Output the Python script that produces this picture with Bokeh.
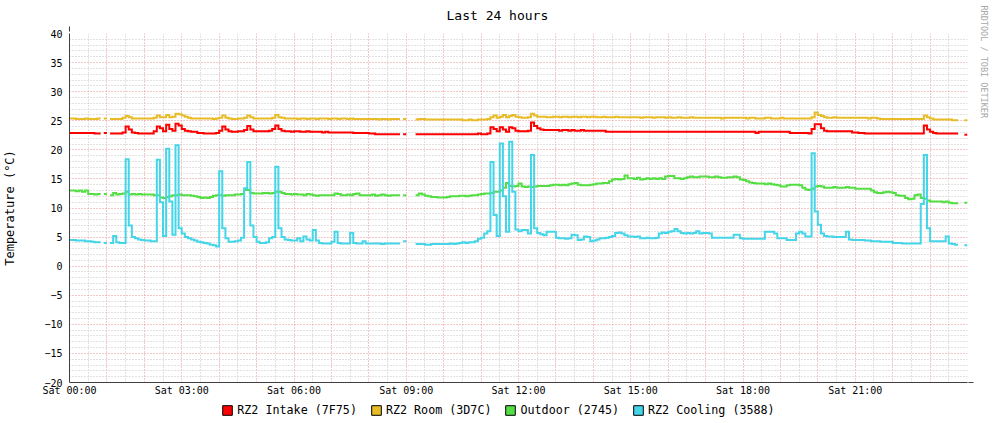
import math
import numpy as np
from bokeh.plotting import figure
from bokeh.layouts import column
from bokeh.models import (Range1d, FixedTicker, Legend, LegendItem, ColumnDataSource, Title,
                          Arrow, NormalHead)
from bokeh.embed import file_html
from bokeh.resources import INLINE

N = None
STEP_MIN = 5  # minutes per sample

# ---- data: one row per hour, 12 samples of 5 minutes ----
intake = [
    22.9, 22.9, 22.9, 22.9, 22.9, 22.9, 22.9, 22.9, 22.8, 22.8, N, 22.9,
    N, 22.8, 22.8, 22.8, 22.8, 23.0, 24.0, 23.5, 23.0, 22.9, 22.8, 22.8,
    22.8, 22.8, 22.8, 23.2, 24.0, 23.7, 23.2, 24.3, 23.6, 23.3, 24.5, 24.2,
    23.6, 23.3, 23.2, 23.1, 23.1, 22.9, 22.9, 22.8, 22.8, 22.8, 22.8, 22.9,
    23.3, 24.0, 23.5, 23.2, 23.1, 23.1, 23.2, 23.2, 23.4, 24.1, 23.5, 23.2,
    23.2, 23.2, 23.2, 23.2, 23.3, 23.6, 24.2, 23.6, 23.3, 23.2, 23.2, 23.1,
    23.2, 23.2, 23.1, 23.1, 23.2, 23.1, 23.1, 23.1, 23.1, 23.0, 23.1, 23.0,
    23.0, 23.0, 23.0, 23.0, 23.0, 23.0, 23.0, 22.9, 22.9, 22.9, 22.9, 22.9,
    22.8, 22.8, 22.7, 22.7, 22.7, 22.7, 22.7, 22.7, 22.7, 22.7, N, 22.7,
    N, N, N, 22.7, 22.7, 22.7, 22.7, 22.7, 22.7, 22.7, 22.7, 22.7,
    22.7, 22.7, 22.7, 22.7, 22.7, 22.7, 22.7, 22.7, 22.7, 22.7, 22.7, 22.8,
    22.7, 22.7, 22.8, 23.9, 23.6, 23.2, 23.9, 23.5, 23.1, 23.9, 23.7, 23.3,
    23.2, 23.2, 23.2, 23.3, 24.7, 24.1, 23.7, 23.5, 23.4, 23.4, 23.4, 23.4,
    23.4, 23.3, 23.4, 23.4, 23.3, 23.4, 23.3, 23.3, 23.4, 23.3, 23.3, 23.3,
    23.3, 23.3, 23.3, 23.3, 23.1, 23.1, 23.1, 23.1, 23.1, 23.1, 23.1, 23.1,
    23.1, 23.1, 23.1, 23.1, 23.1, 23.1, 23.1, 23.1, 23.1, 23.1, 23.1, 23.1,
    23.1, 23.1, 23.1, 23.1, 23.1, 23.1, 23.1, 23.1, 23.1, 23.1, 23.1, 23.1,
    23.1, 23.1, 23.1, 23.1, 23.1, 23.1, 23.1, 23.1, 23.1, 23.1, 23.1, 23.1,
    23.1, 23.1, 23.1, 23.1, 22.9, 23.1, 23.1, 23.1, 23.1, 23.1, 23.1, 23.1,
    23.1, 23.1, 23.1, 22.9, 22.9, 22.9, 22.9, 22.9, 22.9, 22.8, 23.6, 24.4,
    24.4, 23.7, 23.3, 23.2, 23.2, 23.2, 23.2, 23.2, 23.2, 23.2, 23.2, 23.0,
    23.0, 22.9, 22.9, 22.8, 22.8, 22.8, 22.8, 22.8, 22.8, 22.8, 22.8, 22.8,
    22.8, 22.8, 22.8, 22.8, 22.8, 22.8, 22.8, 22.8, 22.8, 22.8, 24.2, 23.5,
    23.1, 22.9, 22.8, 22.8, 22.8, 22.8, 22.8, 22.8, 22.8, N, N, 22.6,
]

room = [
    25.4, 25.4, 25.3, 25.3, 25.3, 25.4, 25.3, 25.3, 25.3, 25.4, N, 25.4,
    N, 25.3, 25.3, 25.3, 25.3, 25.5, 25.8, 25.6, 25.4, 25.4, 25.4, 25.4,
    25.4, 25.4, 25.4, 25.5, 25.9, 25.6, 25.6, 26.0, 25.6, 25.7, 26.2, 26.1,
    25.9, 25.7, 25.5, 25.4, 25.4, 25.4, 25.4, 25.4, 25.4, 25.4, 25.3, 25.4,
    25.5, 25.9, 25.5, 25.4, 25.3, 25.3, 25.4, 25.4, 25.5, 25.9, 25.6, 25.4,
    25.4, 25.4, 25.4, 25.4, 25.4, 25.5, 26.0, 25.6, 25.5, 25.4, 25.4, 25.4,
    25.4, 25.3, 25.4, 25.4, 25.3, 25.4, 25.4, 25.3, 25.4, 25.4, 25.4, 25.3,
    25.4, 25.4, 25.3, 25.4, 25.4, 25.3, 25.4, 25.3, 25.3, 25.3, 25.3, 25.3,
    25.3, 25.3, 25.3, 25.2, 25.3, 25.3, 25.2, 25.3, 25.3, 25.3, N, 25.3,
    N, N, N, 25.2, 25.3, 25.3, 25.2, 25.2, 25.2, 25.2, 25.2, 25.2,
    25.2, 25.2, 25.2, 25.2, 25.2, 25.2, 25.1, 25.1, 25.2, 25.1, 25.1, 25.2,
    25.2, 25.2, 25.3, 25.6, 25.9, 25.5, 25.7, 26.0, 25.6, 25.8, 26.0, 25.7,
    25.6, 25.5, 25.5, 25.6, 26.2, 25.9, 25.7, 25.7, 25.7, 25.6, 25.6, 25.7,
    25.7, 25.6, 25.7, 25.7, 25.6, 25.7, 25.7, 25.6, 25.7, 25.7, 25.6, 25.7,
    25.7, 25.6, 25.6, 25.7, 25.6, 25.6, 25.6, 25.7, 25.6, 25.6, 25.6, 25.6,
    25.6, 25.6, 25.6, 25.5, 25.6, 25.6, 25.6, 25.5, 25.6, 25.6, 25.6, 25.5,
    25.6, 25.5, 25.5, 25.6, 25.5, 25.5, 25.5, 25.6, 25.5, 25.5, 25.5, 25.5,
    25.5, 25.5, 25.5, 25.5, 25.5, 25.4, 25.5, 25.5, 25.5, 25.5, 25.5, 25.5,
    25.5, 25.4, 25.5, 25.5, 25.4, 25.4, 25.4, 25.5, 25.5, 25.4, 25.4, 25.4,
    25.5, 25.4, 25.4, 25.4, 25.4, 25.4, 25.4, 25.4, 25.4, 25.4, 25.6, 26.4,
    26.0, 25.8, 25.6, 25.5, 25.5, 25.6, 25.5, 25.5, 25.5, 25.5, 25.5, 25.5,
    25.5, 25.5, 25.5, 25.5, 25.4, 25.5, 25.5, 25.4, 25.3, 25.3, 25.3, 25.3,
    25.3, 25.3, 25.3, 25.3, 25.3, 25.3, 25.3, 25.3, 25.3, 25.3, 25.9, 25.6,
    25.4, 25.2, 25.2, 25.2, 25.2, 25.2, 25.2, 25.1, 25.1, N, N, 25.1,
]

outdoor = [
    13.0, 13.0, 12.9, 13.0, 12.8, 13.0, 12.4, 12.4, 12.3, 12.4, N, 12.4,
    N, 12.2, 12.6, 12.3, 12.4, 12.5, 12.8, 12.3, 12.4, 12.3, 12.4, 12.3,
    12.3, 12.3, 12.3, 12.2, 12.2, 11.8, 11.7, 11.9, 12.0, 12.2, 12.2, 12.3,
    12.2, 12.2, 12.2, 12.1, 12.0, 11.9, 11.7, 11.8, 11.7, 11.9, 12.1, 12.2,
    12.2, 12.1, 12.2, 12.2, 12.2, 12.3, 12.3, 12.4, 13.1, 13.1, 12.6, 12.5,
    12.5, 12.5, 12.6, 12.6, 12.5, 12.6, 12.8, 12.8, 12.6, 12.4, 12.4, 12.3,
    12.4, 12.3, 12.3, 12.2, 12.4, 12.3, 12.2, 12.1, 12.2, 12.2, 12.2, 12.2,
    12.2, 12.5, 12.4, 12.2, 12.2, 12.3, 12.2, 12.4, 12.5, 12.2, 12.2, 12.2,
    12.2, 12.3, 12.1, 12.2, 12.3, 12.2, 12.1, 12.2, 12.2, 12.2, N, 12.2,
    N, N, N, 12.2, 12.5, 12.3, 12.1, 12.0, 11.9, 11.9, 11.8, 11.8,
    11.8, 11.9, 12.0, 12.0, 12.0, 12.1, 12.1, 12.0, 12.1, 12.2, 12.2, 12.3,
    12.4, 12.5, 12.5, 12.6, 12.8, 12.8, 13.0, 13.5, 14.3, 13.8, 13.7, 13.8,
    14.2, 13.7, 13.6, 13.7, 13.6, 13.7, 13.8, 13.8, 13.8, 13.8, 13.9, 14.0,
    14.0, 13.9, 14.0, 13.9, 14.1, 14.2, 14.3, 14.0, 13.9, 13.9, 13.9, 14.0,
    14.1, 14.2, 14.2, 14.3, 14.3, 14.6, 14.9, 15.0, 14.9, 15.0, 15.6, 15.1,
    15.1, 15.0, 15.2, 14.9, 15.0, 15.1, 15.0, 15.1, 15.0, 15.1, 15.0, 15.4,
    15.5, 15.5, 15.1, 15.1, 15.0, 15.1, 15.3, 15.4, 15.3, 15.3, 15.4, 15.4,
    15.4, 15.3, 15.3, 15.4, 15.3, 15.2, 15.2, 15.3, 15.3, 15.4, 15.3, 14.9,
    14.8, 14.6, 14.4, 14.3, 14.2, 14.2, 14.2, 14.1, 14.2, 14.1, 14.0, 13.9,
    13.7, 13.7, 13.9, 14.0, 14.0, 14.0, 13.9, 13.5, 13.2, 13.1, 13.3, 13.7,
    13.8, 13.7, 13.5, 13.5, 13.5, 13.6, 13.5, 13.5, 13.5, 13.6, 13.5, 13.5,
    13.3, 13.3, 13.3, 13.3, 13.3, 13.0, 12.7, 12.6, 12.6, 12.7, 12.8, 12.7,
    12.6, 12.2, 12.1, 12.1, 11.7, 11.5, 11.6, 12.2, 12.3, 11.7, 11.6, 11.3,
    11.1, 11.1, 11.1, 11.1, 11.0, 11.1, 10.9, 10.8, 10.8, N, N, 10.9,
]

cooling = [
    4.5, 4.5, 4.4, 4.4, 4.4, 4.3, 4.3, 4.2, 4.1, 4.1, N, 4.0,
    N, 4.0, 5.2, 4.1, 4.0, 4.0, 18.4, 7.0, 5.0, 4.8, 4.6, 4.5,
    4.4, 4.4, 4.3, 4.3, 18.3, 11.0, 5.2, 20.2, 11.1, 5.4, 20.8, 6.5,
    5.6, 5.0, 4.8, 4.6, 4.4, 4.2, 4.1, 4.0, 3.9, 3.7, 3.6, 3.4,
    16.3, 6.5, 4.8, 4.2, 4.2, 4.3, 4.4, 4.9, 13.4, 17.9, 7.0, 5.0,
    4.2, 4.0, 4.0, 4.1, 4.8, 5.0, 17.1, 6.5, 5.0, 4.6, 4.5, 4.4,
    4.4, 4.8, 4.3, 5.1, 4.6, 4.4, 6.2, 4.4, 4.0, 3.9, 3.9, 3.9,
    4.2, 5.9, 4.0, 3.9, 3.9, 3.9, 5.7, 4.0, 3.9, 3.9, 4.3, 3.9,
    3.9, 3.9, 3.9, 3.9, 3.8, 3.9, 3.9, 3.9, 3.9, 3.9, N, 4.3,
    N, N, N, 3.8, 3.8, 3.8, 3.7, 3.7, 3.8, 3.8, 3.8, 3.8,
    3.8, 3.8, 3.9, 3.8, 3.9, 4.0, 4.1, 4.0, 4.1, 4.1, 4.3, 4.7,
    4.9, 5.6, 6.0, 17.9, 8.8, 5.2, 21.1, 12.0, 5.9, 21.4, 12.8, 6.3,
    6.0, 6.2, 6.2, 5.6, 19.1, 6.5, 5.7, 5.5, 5.3, 5.9, 5.9, 5.9,
    4.9, 4.8, 4.8, 4.7, 4.8, 5.4, 5.3, 4.5, 4.6, 5.1, 5.0, 4.3,
    4.4, 4.6, 4.8, 4.8, 4.9, 5.0, 5.2, 5.7, 5.8, 5.6, 5.3, 5.1,
    5.1, 5.0, 5.1, 4.8, 4.8, 4.9, 4.8, 4.8, 4.9, 5.6, 5.8, 5.7,
    5.9, 6.0, 6.4, 6.0, 5.7, 5.6, 5.7, 5.6, 5.7, 6.0, 5.6, 5.7,
    5.7, 5.6, 4.9, 4.9, 4.9, 4.9, 4.9, 4.9, 4.9, 5.4, 5.4, 4.8,
    4.7, 4.7, 4.7, 4.7, 4.7, 4.7, 4.7, 5.9, 5.9, 5.9, 5.6, 4.8,
    4.8, 4.8, 4.5, 4.5, 4.5, 5.6, 5.9, 5.6, 5.1, 5.1, 19.4, 9.4,
    7.1, 5.6, 5.2, 5.1, 5.1, 5.0, 5.0, 5.0, 5.0, 5.9, 4.6, 4.5,
    4.5, 4.5, 4.5, 4.4, 4.4, 4.3, 4.3, 4.3, 4.2, 4.2, 4.2, 4.2,
    4.0, 4.0, 4.0, 3.9, 3.9, 3.9, 3.9, 3.9, 3.9, 10.7, 19.1, 6.5,
    4.3, 4.3, 4.3, 4.3, 4.3, 5.1, 3.9, 3.8, 3.7, N, N, 3.6,
]

series_names = ["RZ2 Intake (7F75)", "RZ2 Room (3D7C)", "Outdoor (2745)", "RZ2 Cooling (3588)"]
series_colors = ["#FF0000", "#E8BC26", "#55DD44", "#44D5E8"]

y_ticks = [-20, -15, -10, -5, 0, 5, 10, 15, 20, 25, 30, 35, 40]
x_ticks = [0, 3, 6, 9, 12, 15, 18, 21]
x_tick_labels = ["Sat 00:00", "Sat 03:00", "Sat 06:00", "Sat 09:00",
                 "Sat 12:00", "Sat 15:00", "Sat 18:00", "Sat 21:00"]
title_text = "Last 24 hours"
y_title = "Temperature (°C)"
watermark = "RRDTOOL / TOBI OETIKER"

# ---- layout constants (pixel positions in the picture) ----
W, H = 997, 423
H_MAIN = 398                       # main chart; the legend strip fills the rest
FRAME_L, FRAME_R, FRAME_T, FRAME_B = 67, 967, 33, 383
X0, X1, Y0, Y1 = 0, 24, -20, 40
PXH = (FRAME_R - FRAME_L) / (X1 - X0)
PXV = (FRAME_B - FRAME_T) / (Y1 - Y0)
MONO = "DejaVu Sans Mono"

p = figure(width=W, height=H_MAIN, x_range=Range1d(X0, X1), y_range=Range1d(Y0, Y1),
           output_backend="svg", toolbar_location=None, title=title_text,
           min_border_left=FRAME_L, min_border_right=W - FRAME_R,
           min_border_top=FRAME_T, min_border_bottom=H_MAIN - FRAME_B,
           background_fill_color="white", border_fill_color="white",
           outline_line_color=None)

# title (above the plot)
p.title.align = "left"
p.title.offset = 444 - FRAME_L
p.title.vertical_align = "top"
p.title.standoff = 15.5
p.title.text_font = MONO
p.title.text_font_size = "13px"
p.title.text_font_style = "normal"
p.title.text_color = "black"

# grids
p.xgrid.ticker = FixedTicker(ticks=list(range(1, 24)),
                             minor_ticks=[h + 0.5 for h in range(24)])
p.ygrid.ticker = FixedTicker(ticks=list(range(-15, 41, 5)),
                             minor_ticks=[v for v in range(-19, 40) if v % 5 != 0])
for g in (p.xgrid, p.ygrid):
    g.grid_line_color = "#E89090"
    g.grid_line_dash = "1 2"
    g.grid_line_width = 1
    g.minor_grid_line_color = "#C4C4C4"
    g.minor_grid_line_dash = "1 2"
    g.minor_grid_line_width = 1

# axes
p.xaxis.ticker = FixedTicker(ticks=x_ticks)
p.xaxis.major_label_overrides = {t: l for t, l in zip(x_ticks, x_tick_labels)}
p.yaxis.ticker = FixedTicker(ticks=y_ticks)
for ax in (p.xaxis, p.yaxis):
    ax.axis_line_color = "#404040"
    ax.major_tick_in = 0
    ax.major_tick_out = 0
    ax.minor_tick_line_color = None
    ax.major_label_text_font = MONO
    ax.major_label_text_font_size = "10px"
    ax.major_label_text_color = "black"
p.xaxis.major_label_standoff = 2
p.yaxis.major_label_standoff = 7
p.yaxis.axis_label = y_title
p.yaxis.axis_label_text_font = MONO
p.yaxis.axis_label_text_font_size = "12px"
p.yaxis.axis_label_text_font_style = "normal"
p.yaxis.axis_label_text_color = "black"
p.yaxis.axis_label_standoff = 24

# vertical watermark on the right edge
p.add_layout(Title(text=watermark, align="left", offset=5 - FRAME_T,
                   vertical_align="top", standoff=18, text_font=MONO,
                   text_font_size="8.5px", text_font_style="normal",
                   text_color="#A8A8A8"), "right")


# series as stepped lines (each sample holds for its 5-minute interval)
def step_runs(vals):
    dt = STEP_MIN / 60.0
    xs, ys, cx, cy = [], [], [], []
    for i, v in enumerate(vals):
        if v is None or (isinstance(v, float) and math.isnan(v)):
            if cx:
                xs.append(cx); ys.append(cy); cx, cy = [], []
            continue
        cx += [i * dt, (i + 1) * dt]
        cy += [v, v]
    if cx:
        xs.append(cx); ys.append(cy)
    return xs, ys


for col, vals in zip(series_colors, [intake, room, outdoor, cooling]):
    xs, ys = step_runs(vals)
    p.multi_line(xs=xs, ys=ys, line_color=col, line_width=2, line_join="miter")

# axis arrows (last, so nothing else depends on them)
head_col = "#7F1F1F"
p.add_layout(Arrow(x_start=X0, y_start=Y1, x_end=X0, y_end=Y1 + 7 / PXV,
                   line_color="#404040", line_width=1,
                   end=NormalHead(size=5, fill_color=head_col, line_color=head_col)))
p.add_layout(Arrow(x_start=X1, y_start=Y0, x_end=X1 + 6 / PXH, y_end=Y0,
                   line_color="#404040", line_width=1,
                   end=NormalHead(size=5, fill_color=head_col, line_color=head_col)))

# ---- legend strip below the chart ----
LEG_H = H - H_MAIN
lf = figure(width=W, height=LEG_H, x_range=Range1d(0, 1), y_range=Range1d(0, 1),
            output_backend="svg", toolbar_location=None, title=None,
            x_axis_location=None, y_axis_location=None,
            min_border_left=0, min_border_right=0, min_border_top=0, min_border_bottom=0,
            background_fill_color="white", border_fill_color="white",
            outline_line_color=None)
lf.xgrid.visible = False
lf.ygrid.visible = False
leg_items = []
for name, col in zip(series_names, series_colors):
    swatch = lf.quad(source=ColumnDataSource(dict(l=[np.nan], r=[np.nan], t=[np.nan], b=[np.nan])),
                     left="l", right="r", top="t", bottom="b",
                     fill_color=col, line_color="black", line_width=1)
    leg_items.append(LegendItem(label=name, renderers=[swatch]))

# the strip's frame is aligned with the chart's frame (starts at FRAME_L)
legend = Legend(items=leg_items, orientation="horizontal",
                location=(220.5 - 1.2 - FRAME_L, LEG_H - (403 - H_MAIN) - 13.6),
                glyph_width=12, glyph_height=12, label_standoff=4, spacing=13,
                padding=0, margin=0, label_height=12,
                border_line_color=None, background_fill_alpha=0,
                label_text_font=MONO, label_text_font_size="11.7px",
                label_text_color="black")
lf.add_layout(legend)

layout = column(p, lf, spacing=0)
open("out.html", "w").write(file_html(layout, INLINE))
